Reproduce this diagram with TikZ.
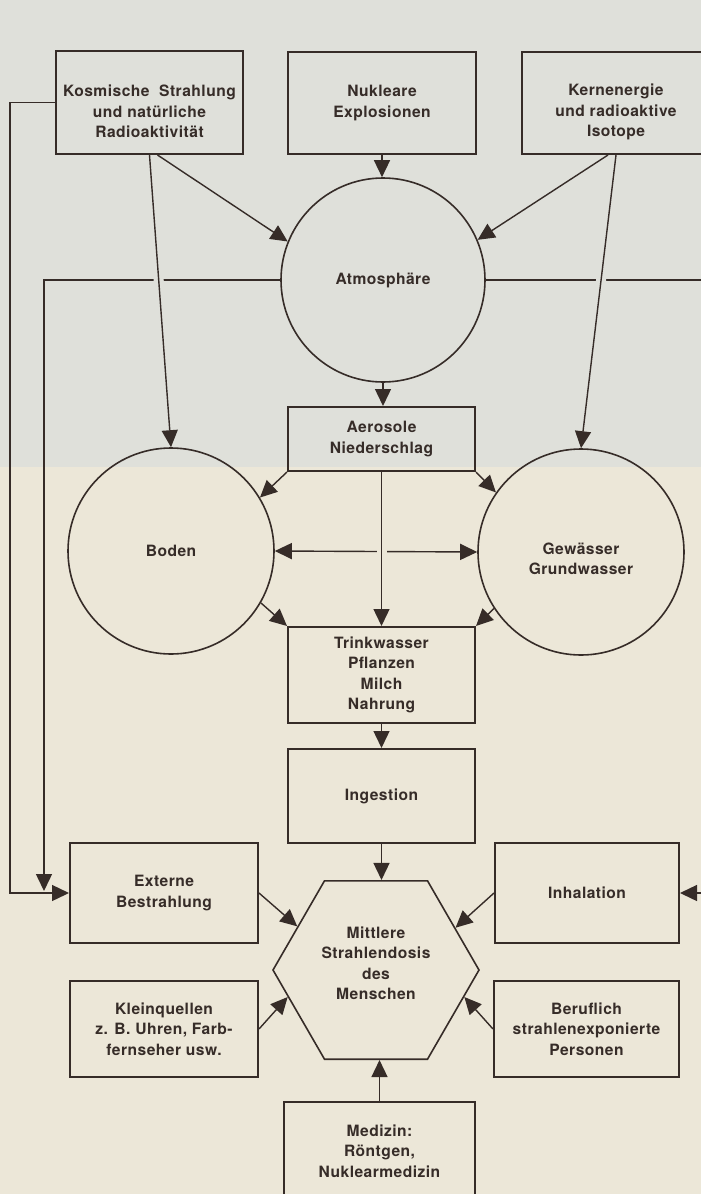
\documentclass[tikz,border=0pt]{standalone}
\usepackage{fontspec}
\setmainfont{TeX Gyre Heros}[LetterSpace=3]
\usepackage{tikz}
\usetikzlibrary{arrows.meta,shapes.geometric}
\definecolor{tinte}{HTML}{362C28}
\definecolor{papieroben}{HTML}{DFE0DA}
\definecolor{papierunten}{HTML}{ECE7D8}

\begin{document}
\begin{tikzpicture}[x=0.5pt, y=-0.5pt,
  >={Triangle[length=8.5pt,width=8pt]},
  every node/.style={font=\bfseries\fontsize{7.8}{10.25}\selectfont, text=tinte, align=center},
  kasten/.style={draw=tinte, line width=1pt, rectangle, inner sep=0pt},
  kreis/.style={draw=tinte, line width=0.8pt, circle, minimum size=102pt, inner sep=0pt},
  pfeil/.style={draw=tinte, line width=0.7pt, ->},
  luecke/.style={preaction={draw=#1, -, line width=5pt, shorten <=4pt, shorten >=9pt}}]
\useasboundingbox (0,0) rectangle (701,1194);
\fill[papieroben] (0,0) rectangle (701,467);
\fill[papierunten] (0,467) rectangle (701,1194);

% Quellen
\node[kasten, minimum width=93.5pt, minimum height=51.5pt] (kosmisch) at (149.5,102.5) {};
\node (kosmischtext) at ([yshift=-4.5pt]kosmisch.center) {Kosmische\ \ Strahlung\\und natürliche\\Radioaktivität};
\node[kasten, minimum width=94pt, minimum height=51pt] (nuklear) at (382,103) {Nukleare\\Explosionen};
\node[kasten, minimum width=94pt, minimum height=51pt] (kern) at (616,103) {};
\node (kerntext) at ([yshift=-4.5pt]kern.center) {Kernenergie\\und radioaktive\\Isotope};

% Umwelt
\node[kreis] (atmo) at (383,280) {Atmosphäre};
\node[kreis, minimum size=103pt] (boden) at (171,551) {Boden};
\node[kreis, minimum size=103pt] (gewaesser) at (581,552) {};
\node (gewaessertext) at ([yshift=-3.5pt]gewaesser.center) {Gewässer\\Grundwasser};
\node[kasten, minimum width=93.5pt, minimum height=32pt] (aerosol) at (381.5,439) {Aerosole\\Niederschlag};
\node[kasten, minimum width=93.5pt, minimum height=48pt] (trink) at (381.5,675) {Trinkwasser\\Pflanzen\\Milch\\Nahrung};
\node[kasten, minimum width=93.5pt, minimum height=47pt] (ingest) at (381.5,796) {Ingestion};

% Mensch
\node[kasten, minimum width=94pt, minimum height=50pt] (extern) at (164,893) {Externe\\Bestrahlung};
\node[kasten, minimum width=92pt, minimum height=50pt] (inhal) at (587,893) {Inhalation};
\node[kasten, minimum width=94pt, minimum height=48pt] (klein) at (164,1029) {Kleinquellen\\z. B. Uhren, Farb-\\fernseher usw.};
\node[kasten, minimum width=92.5pt, minimum height=48pt] (beruf) at (586.5,1029) {Beruflich\\strahlenexponierte\\Personen};
\node[kasten, minimum width=95.5pt, minimum height=49pt] (medizin) at (379.5,1151) {Medizin:\\Röntgen,\\Nuklearmedizin};
\node[draw=tinte, line width=0.8pt, regular polygon, regular polygon sides=6, minimum size=103pt, inner sep=0pt] (mensch) at (376,970) {};
\node (menschtext) at ([yshift=3.5pt]mensch.center) {Mittlere\\Strahlendosis\\des\\Menschen};

\coordinate (treffpunkt) at (44,891);
\coordinate (rand) at (708,600);

% Atmosphaere
\draw[pfeil] (atmo.west) -| (treffpunkt);
\draw[pfeil] (atmo.east) -| (rand) |- (inhal.east);
\draw[pfeil] (atmo.south) -- (atmo.south |- aerosol.north);

% Quellen
\draw[pfeil, luecke=papieroben] (kosmisch.south) -- (boden.north);
\draw[pfeil] ([xshift=4pt]kosmisch.south) -- (atmo.158);
\draw[pfeil] (kosmisch.west) -- ++(-45,0) |- (extern.west);
\draw[pfeil] (nuklear.south) -- (nuklear.south |- atmo.north);
\draw[pfeil, luecke=papieroben] (kern.south) -- (gewaesser.north);
\draw[pfeil] ([xshift=-4pt]kern.south) -- (atmo.23);

% Boden, Wasser, Nahrung
\draw[pfeil, <->] (boden.east) -- (gewaesser.west);
\draw[pfeil, luecke=papierunten] (aerosol.south) -- (trink.north);
\draw[pfeil] (aerosol.south west) -- (boden.31);
\draw[pfeil] (aerosol.south east) -- (gewaesser.145);
\draw[pfeil] (boden.-30) -- (trink.north west);
\draw[pfeil] (gewaesser.-147) -- (trink.north east);
\draw[pfeil] (trink.south) -- (ingest.north);
\draw[pfeil] (ingest.south) -- (ingest.south |- mensch.north);

% Strahlendosis
\draw[pfeil] (extern.east) -- (mensch.151);
\draw[pfeil] (inhal.west) -- (mensch.28);
\draw[pfeil] (klein.east) -- (mensch.-163);
\draw[pfeil] (beruf.west) -- (mensch.-17);
\draw[pfeil] (medizin.north) -- (medizin.north |- mensch.south);
\end{tikzpicture}
\end{document}
